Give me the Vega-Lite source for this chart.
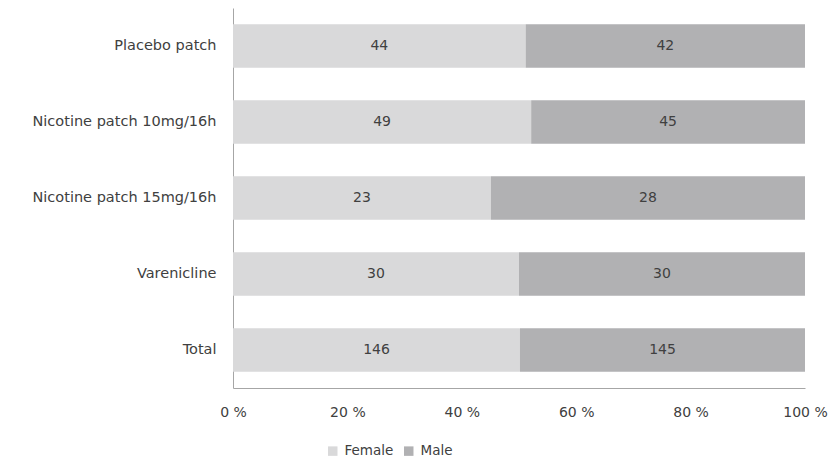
{
  "$schema": "https://vega.github.io/schema/vega-lite/v6.json",
  "width": 572,
  "height": 380,
  "autosize": {"type": "none"},
  "padding": {"left": 233, "top": 8, "right": 27, "bottom": 81},
  "background": "white",
  "config": {
    "view": {"stroke": null},
    "font": "DejaVu Sans",
    "axis": {"labelFont": "DejaVu Sans", "labelColor": "#404040", "labelFontSize": 14, "domainColor": "#a6a6a6", "ticks": false, "grid": false, "title": null},
    "legend": {"labelFont": "DejaVu Sans", "labelColor": "#404040", "labelFontSize": 13.5}
  },
  "data": {
    "values": [
      {"group": "Placebo patch", "sex": "Female", "order": 1, "n": 44},
      {"group": "Placebo patch", "sex": "Male", "order": 2, "n": 42},
      {"group": "Nicotine patch 10mg/16h", "sex": "Female", "order": 1, "n": 49},
      {"group": "Nicotine patch 10mg/16h", "sex": "Male", "order": 2, "n": 45},
      {"group": "Nicotine patch 15mg/16h", "sex": "Female", "order": 1, "n": 23},
      {"group": "Nicotine patch 15mg/16h", "sex": "Male", "order": 2, "n": 28},
      {"group": "Varenicline", "sex": "Female", "order": 1, "n": 30},
      {"group": "Varenicline", "sex": "Male", "order": 2, "n": 30},
      {"group": "Total", "sex": "Female", "order": 1, "n": 146},
      {"group": "Total", "sex": "Male", "order": 2, "n": 145}
    ]
  },
  "transform": [
    {"stack": "n", "groupby": ["group"], "sort": [{"field": "order"}], "offset": "normalize", "as": ["x0", "x1"]},
    {"calculate": "(datum.x0 + datum.x1) / 2", "as": "xmid"}
  ],
  "encoding": {
    "y": {
      "field": "group", "type": "nominal",
      "sort": ["Placebo patch", "Nicotine patch 10mg/16h", "Nicotine patch 15mg/16h", "Varenicline", "Total"],
      "scale": {"paddingInner": 0.43, "paddingOuter": 0.215},
      "axis": {"labelPadding": 17, "labelFontSize": 14.5, "labelLimit": 230, "domain": true}
    }
  },
  "layer": [
    {
      "mark": {"type": "bar"},
      "encoding": {
        "x": {
          "field": "x0", "type": "quantitative",
          "scale": {"domain": [0, 1], "nice": false},
          "axis": {"values": [0, 0.2, 0.4, 0.6, 0.8, 1], "labelExpr": "format(datum.value * 100, 'd') + ' %'", "labelPadding": 17, "labelFlush": false}
        },
        "x2": {"field": "x1"},
        "color": {
          "field": "sex", "type": "nominal",
          "scale": {"domain": ["Female", "Male"], "range": ["#d9d9da", "#b1b1b3"]},
          "legend": {"title": null, "orient": "none", "direction": "horizontal", "legendX": 93, "legendY": 436, "symbolType": "square", "symbolSize": 90, "symbolStrokeWidth": 0, "columnPadding": 8, "labelOffset": 5}
        }
      }
    },
    {
      "mark": {"type": "text", "color": "#404040", "fontSize": 14, "font": "DejaVu Sans"},
      "encoding": {
        "x": {"field": "xmid", "type": "quantitative"},
        "text": {"field": "n", "type": "quantitative"}
      }
    }
  ]
}
